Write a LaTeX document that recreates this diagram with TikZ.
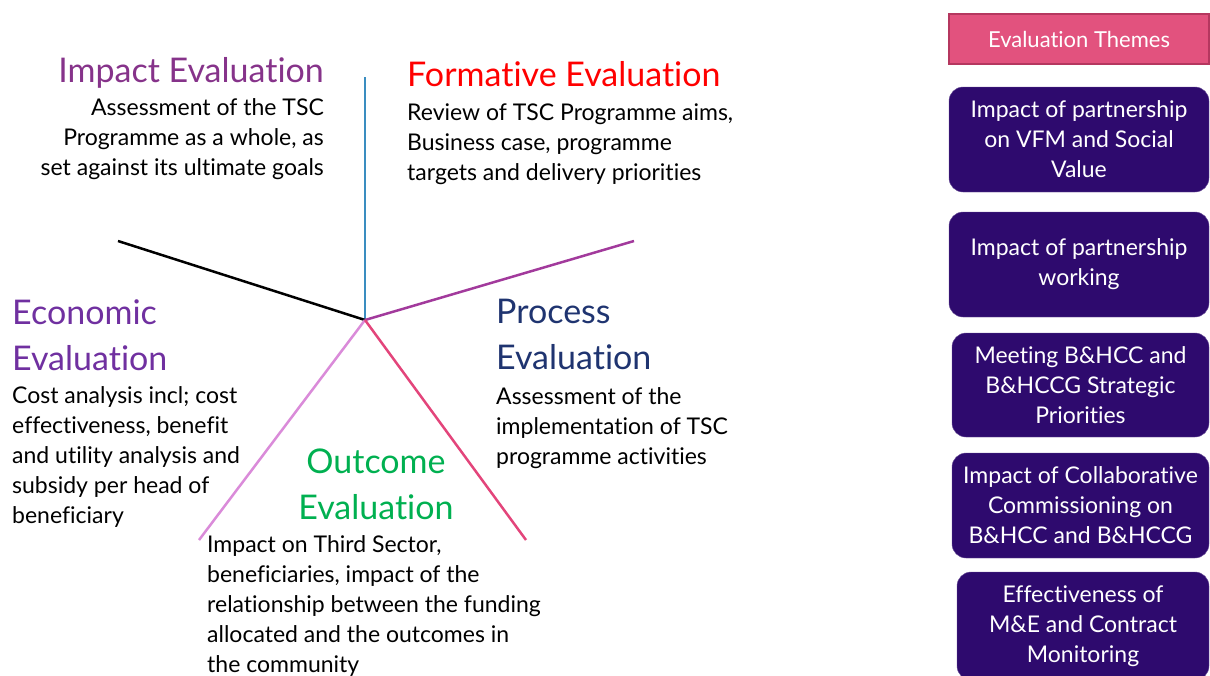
\documentclass[tikz,border=0pt]{standalone}
\usepackage{fontspec}
\setmainfont{Lato}[Ligatures={NoCommon}]
\definecolor{impactc}{HTML}{86338A}
\definecolor{formc}{HTML}{FF0000}
\definecolor{econc}{HTML}{7030A0}
\definecolor{procc}{HTML}{1F3470}
\definecolor{outc}{HTML}{00B050}
\definecolor{headfill}{HTML}{E2527E}
\definecolor{headedge}{HTML}{B5375F}
\definecolor{themefill}{HTML}{2E0A6E}
\definecolor{spokeblue}{HTML}{3A8DC0}
\definecolor{spokeplum}{HTML}{A23A9C}
\definecolor{spokeorchid}{HTML}{DA8BD9}
\definecolor{spokerose}{HTML}{E3457B}
\tikzset{
  heading/.style={inner sep=0pt, font=\fontsize{34}{46}\selectfont},
  body/.style={inner sep=0pt, text=black, font=\fontsize{23}{30}\selectfont},
  theme/.style={
    rectangle,
    rounded corners=14pt,
    draw=themefill!70!white,
    fill=themefill,
    text=white,
    align=center,
    inner sep=0pt,
    font=\fontsize{23}{30}\selectfont
  },
  spoke/.style={line width=2.5pt}
}

\begin{document}
\begin{tikzpicture}[x=1pt, y=-1pt]
    \useasboundingbox (0,0) rectangle (1210,675);
    \clip (0,0) rectangle (1210,675);
    % spokes
    \coordinate (hub) at (365,320);
    \coordinate (tipN) at (365,77);
    \coordinate (tipW) at (118,241);
    \coordinate (tipE) at (634,241);
    \coordinate (tipSW) at (199,540);
    \coordinate (tipSE) at (526,540);
    \draw[spoke, spokeblue] (hub) -- (tipN);
    \draw[spoke, black] (hub) -- (tipW);
    \draw[spoke, spokeplum] (hub) -- (tipE);
    \draw[spoke, spokeorchid] (hub) -- (tipSW);
    \draw[spoke, spokerose] (hub) -- (tipSE);
    % evaluation types
    \node[heading, text=impactc, anchor=base east] (impact) at (324,82) {Impact Evaluation};
    \node[body, align=right, anchor=north east] (impactTxt) at (324,98) {Assessment of the TSC\\Programme as a whole, as\\set against its ultimate goals};
    \node[heading, text=formc, anchor=base west] (form) at (407,86) {Formative Evaluation};
    \node[body, align=left, anchor=north west] (formTxt) at (407,104) {Review of TSC Programme aims,\\Business case, programme\\targets and delivery priorities};
    \node[heading, text=econc, align=left, anchor=north west] (econ) at (12,299) {Economic\\Evaluation};
    \node[body, align=left, anchor=north west] (econTxt) at (12,386) {Cost analysis incl; cost\\effectiveness, benefit\\and utility analysis and\\subsidy per head of\\beneficiary};
    \node[heading, text=procc, align=left, anchor=north west] (proc) at (496,299) {Process\\Evaluation};
    \node[body, align=left, anchor=north west] (procTxt) at (496,387) {Assessment of the\\implementation of TSC\\programme activities};
    \node[heading, text=outc, align=center, anchor=north] (outc) at (376,449) {Outcome\\Evaluation};
    \node[body, align=left, anchor=north west] (outcTxt) at (207,535) {Impact on Third Sector,\\beneficiaries, impact of the\\relationship between the funding\\allocated and the outcomes in\\the community};
    % evaluation themes
    \node[rectangle, draw=headedge, line width=1.5pt, fill=headfill, text=white, minimum width=260, minimum height=50, font=\fontsize{22}{24}\selectfont] (themes) at (1079,39) {Evaluation Themes};
    \node[theme, minimum width=260, minimum height=105] (t1) at (1079,139.5) {Impact of partnership\\on VFM and Social\\Value};
    \node[theme, minimum width=260, minimum height=105] (t2) at (1079,264.5) {Impact of partnership\\working};
    \node[theme, minimum width=257, minimum height=104] (t3) at (1080.5,385) {Meeting B\&HCC and\\B\&HCCG Strategic\\Priorities};
    \node[theme, minimum width=257, minimum height=105] (t4) at (1080.5,505.5) {Impact of Collaborative\\Commissioning on\\B\&HCC and B\&HCCG};
    \node[theme, minimum width=252, minimum height=108] (t5) at (1083,626) {Effectiveness of\\M\&E and Contract\\Monitoring};
\end{tikzpicture}
\end{document}
